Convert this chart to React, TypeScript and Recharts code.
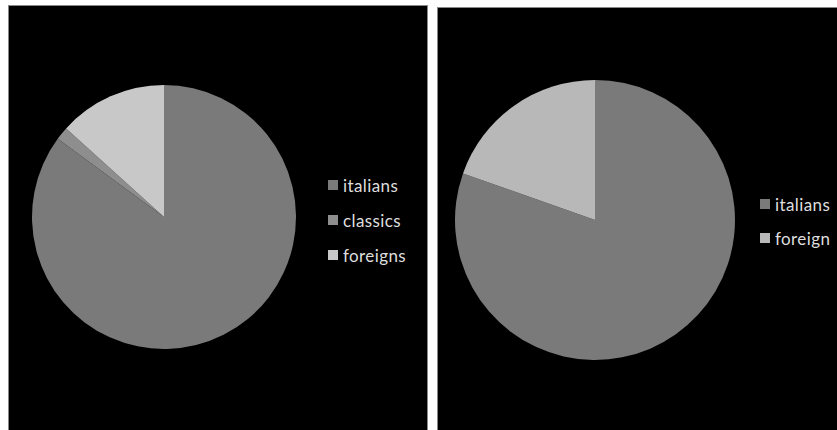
import React from "react";
import { PieChart, Pie, Cell, Legend } from "recharts";

const leftNames = ["italians", "classics", "foreigns"];
const leftValues = [85.1, 1.6, 13.3];
const leftColors = ["#7a7a7a", "#8e8e8e", "#c8c8c8"];

const rightNames = ["italians", "foreign"];
const rightValues = [80.4, 19.6];
const rightColors = ["#7a7a7a", "#b8b8b8"];

const leftData = leftNames.map((name, i) => ({ name, value: leftValues[i] }));
const rightData = rightNames.map((name, i) => ({ name, value: rightValues[i] }));

const font = "Lato, 'Open Sans', sans-serif";

// legend keeps the series order, not recharts' sorted payload
function makeLegend(names: string[], colors: string[], gap: number) {
  return () => (
    <div>
      {names.map((name, i) => (
        <div
          key={name}
          style={{
            display: "flex",
            alignItems: "center",
            height: 20,
            marginTop: i === 0 ? 0 : gap - 20,
            fontFamily: font,
            fontSize: 17,
            color: "#dedede",
            letterSpacing: 0.4,
          }}>
          <span
            style={{
              display: "inline-block",
              width: 10,
              height: 10,
              background: colors[i],
              marginRight: 5,
            }}
          />
          {name}
        </div>
      ))}
    </div>
  );
}

const panel: React.CSSProperties = {
  position: "absolute",
  background: "#000",
  boxShadow: "0 0 0 1px #888",
};

export default function App() {
  return (
    <div
      style={{
        position: "absolute",
        left: 0,
        top: 0,
        width: 837,
        height: 430,
        background: "#fff",
        overflow: "hidden",
      }}>
      <div style={{ ...panel, left: 9, top: 6, width: 418, height: 426 }}>
        <PieChart width={418} height={426}>
          <Pie
            data={leftData}
            dataKey="value"
            nameKey="name"
            cx={150}
            cy={206}
            outerRadius={132}
            startAngle={90}
            endAngle={-270}
            stroke="none"
            isAnimationActive={false}>
            {leftData.map((d, i) => (
              <Cell key={d.name} fill={leftColors[i]} />
            ))}
          </Pie>
          <Legend
            layout="vertical"
            content={makeLegend(leftNames, leftColors, 35)}
            wrapperStyle={{ left: 319, top: 169, width: 100 }}
          />
        </PieChart>
      </div>
      <div style={{ ...panel, left: 438, top: 8, width: 402, height: 424 }}>
        <PieChart width={402} height={424}>
          <Pie
            data={rightData}
            dataKey="value"
            nameKey="name"
            cx={152}
            cy={207}
            outerRadius={140}
            startAngle={90}
            endAngle={-270}
            stroke="none"
            isAnimationActive={false}>
            {rightData.map((d, i) => (
              <Cell key={d.name} fill={rightColors[i]} />
            ))}
          </Pie>
          <Legend
            layout="vertical"
            content={makeLegend(rightNames, rightColors, 34)}
            wrapperStyle={{ left: 322, top: 186, width: 80 }}
          />
        </PieChart>
      </div>
    </div>
  );
}
